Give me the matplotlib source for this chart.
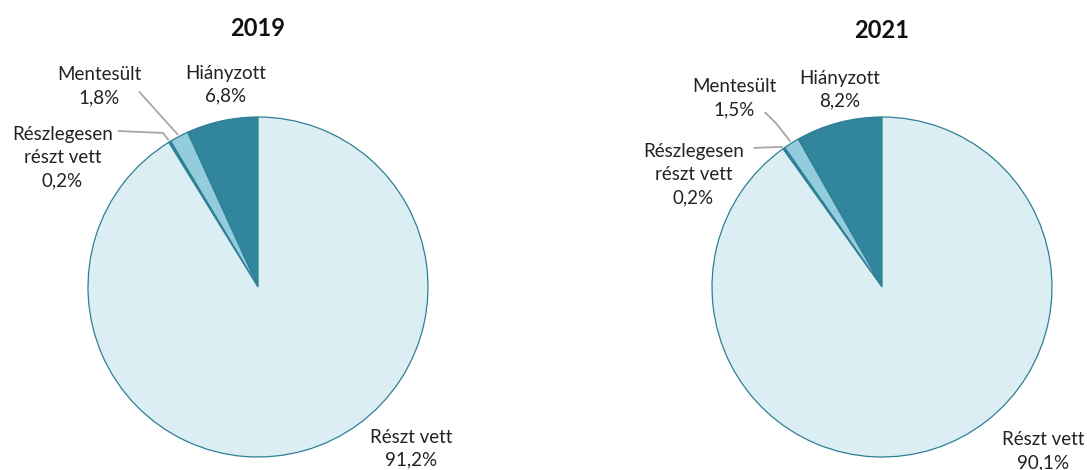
import numpy as np
import matplotlib
matplotlib.use("Agg")
import matplotlib.pyplot as plt

plt.rcParams['font.family'] = ['Lato', 'DejaVu Sans']

categories = ['Hiányzott', 'Mentesült', 'Részlegesen\nrészt vett', 'Részt vett']
years = ['2019', '2021']
values_2019 = [6.8, 1.8, 0.2, 91.2]
values_2021 = [8.2, 1.5, 0.2, 90.1]
colors = ['#31859C', '#93CDDD', '#31859C', '#DBEEF4']

# label positions (axes units, radius = 1), per year
label_pos = {
    '2019': [(-0.19, 1.19), (-0.935, 1.18), (-1.15, 0.76), (0.90, -0.95)],
    '2021': [(-0.25, 1.16), (-0.87, 1.11), (-1.11, 0.66), (0.947, -0.965)],
}
# leader lines: start point(s) near the label, end on the wedge
leaders = {
    '2019': {1: [(-0.700, 1.150)], 2: [(-0.825, 0.918), (-0.559, 0.906)]},
    '2021': {1: [(-0.690, 1.029), (-0.62, 0.96)], 2: [(-0.755, 0.818)]},
}
title_y = {'2019': 442 / 470, '2021': 440 / 470}

fig = plt.figure(figsize=(10.87, 4.70), dpi=100)
centers_x = [258, 882]

for year, vals, cx in zip(years, [values_2019, values_2021], centers_x):
    ax = fig.add_axes([(cx - 170) / 1087, 13 / 470, 340 / 1087, 340 / 470])
    wedges, _ = ax.pie(vals, colors=colors, startangle=90, counterclock=True,
                       wedgeprops=dict(edgecolor='#2F7F95', linewidth=0.9))
    ax.set_xlim(-1, 1)
    ax.set_ylim(-1, 1)
    ax.set_aspect('equal')
    ax.axis('off')

    cum = np.cumsum([0] + vals)
    for i, (cat, v) in enumerate(zip(categories, vals)):
        x, y = label_pos[year][i]
        txt = f"{cat}\n{str(v).replace('.', ',')}%"
        ax.text(x, y, txt, ha='center', va='center', fontsize=13.5,
                linespacing=1.42, color='#222222', clip_on=False)
        if i in leaders[year]:
            mid = np.deg2rad(90 + (cum[i] + v / 2) * 3.6)
            pts = leaders[year][i] + [(np.cos(mid) * 1.01, np.sin(mid) * 1.01)]
            xs, ys = zip(*pts)
            ax.plot(xs, ys, color='#A6A6A6', linewidth=1.3, clip_on=False,
                    solid_capstyle='butt')

    fig.text(cx / 1087, title_y[year], year, ha='center', va='center',
             fontsize=17, fontweight='bold', color='#111111')

fig.savefig('out.png', dpi=100)
